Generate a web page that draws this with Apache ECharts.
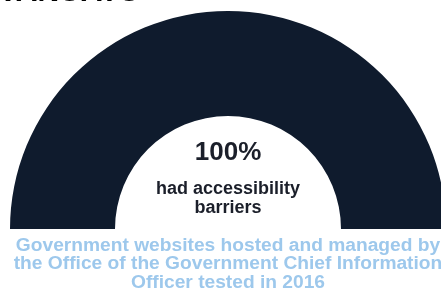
<!DOCTYPE html>
<html lang="en" style="height: 100%">
<head>
  <meta charset="utf-8">
  <title>Vanuatu accessibility</title>
  <script type="text/javascript" src="https://fastly.jsdelivr.net/npm/echarts@6/dist/echarts.min.js"></script>
</head>
<body style="height: 100%; margin: 0; background: #fff">
  <div id="chart" style="width: 441px; height: 290px"></div>

  <script type="text/javascript">
    var dom = document.getElementById('chart');
    var myChart = echarts.init(dom);

    let categories = ['had accessibility barriers'];
    let values = [100];
    let headline = 'VANUATU';
    let caption = 'Government websites hosted and managed by\nthe Office of the Government Chief Information\nOfficer tested in 2016';

    let font = '"Liberation Sans", Arial, sans-serif';

    let option = {
      backgroundColor: '#fff',
      graphic: [
        {
          type: 'text', left: -2, top: -22,
          style: { text: headline, font: '900 30px ' + font, fill: '#000' }
        },
        {
          type: 'text', x: 228, y: 153,
          style: {
            text: values[0] + '%', font: 'bold 26px ' + font, fill: '#1b1f2a',
            align: 'center', verticalAlign: 'middle'
          }
        },
        {
          type: 'text', x: 228, y: 199,
          style: {
            text: 'had accessibility\nbarriers', font: 'bold 18px ' + font, fill: '#1b1f2a',
            align: 'center', verticalAlign: 'middle', lineHeight: 19
          }
        },
        {
          type: 'text', x: 228, y: 264,
          style: {
            text: caption, font: 'bold 19.2px ' + font, fill: '#9dc8ec',
            align: 'center', verticalAlign: 'middle', lineHeight: 18.5
          }
        }
      ],
      series: [
        {
          type: 'pie',
          center: [228, 229],
          radius: [113, 218],
          startAngle: 180,
          endAngle: 0,
          silent: true,
          label: { show: false },
          labelLine: { show: false },
          itemStyle: { color: '#0f1b2d', borderWidth: 0 },
          data: categories.map((c, i) => ({ name: c, value: values[i] }))
        }
      ]
    };

    myChart.setOption(option);
  </script>
</body>
</html>
